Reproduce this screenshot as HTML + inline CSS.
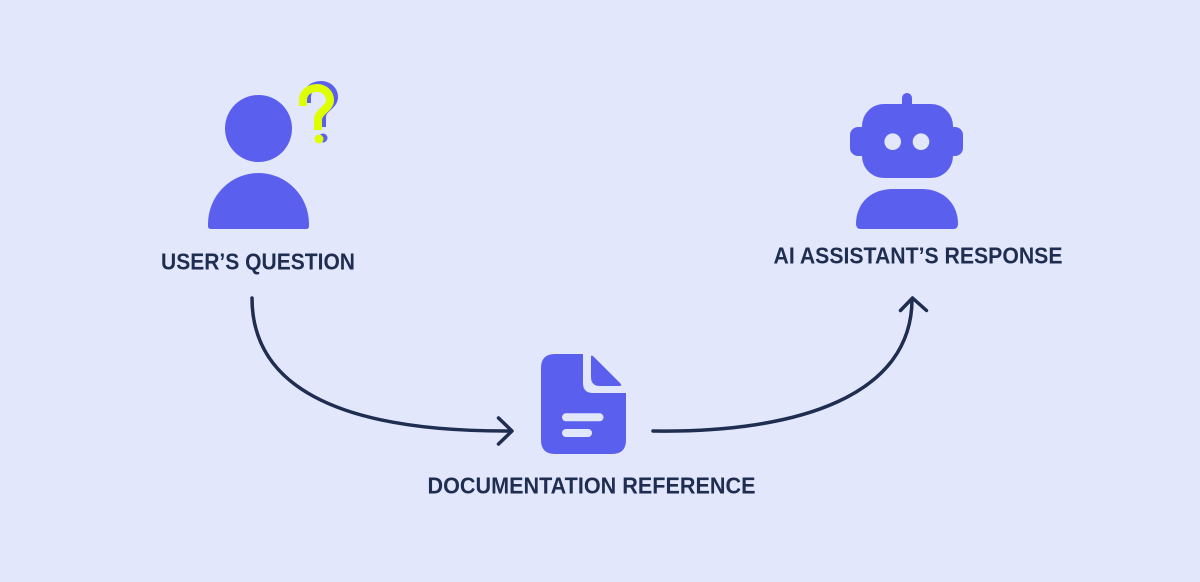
<!DOCTYPE html>
<html>
<head>
<meta charset="utf-8">
<style>
html,body{margin:0;padding:0;background:#E2E7FC;}
svg{display:block;}
text{font-family:"Liberation Sans",Arial,sans-serif;font-weight:bold;fill:#1F2E50;}
</style>
</head>
<body>
<svg width="1200" height="582" viewBox="0 0 1200 582" xmlns="http://www.w3.org/2000/svg">
<rect width="1200" height="582" fill="#E2E7FC"/>

<!-- User icon -->
<circle cx="258.5" cy="128.5" r="33.5" fill="#5B5FEE"/>
<path d="M208,224 A50.5,51 0 0 1 309,224 L309,226 Q309,229 306,229 L211,229 Q208,229 208,226 Z" fill="#5B5FEE"/>

<!-- Question mark -->
<g fill="none" stroke-linecap="butt" stroke-width="8">
  <path d="M307,103 L307,97 C307,89 314,85 321,85 C329,85 334,91 334,97 C334,106 322,108 322,117 L322,127" stroke="#5B5FEE"/>
  <path d="M303,106 L303,100 C303,92 310,88 317,88 C325,88 330,94 330,100 C330,109 318,111 318,120 L318,130" stroke="#DDFF00"/>
</g>
<circle cx="323" cy="138" r="4.5" fill="#5B5FEE"/>
<circle cx="319" cy="139" r="4.5" fill="#DDFF00"/>

<!-- Robot -->
<rect x="902" y="93" width="10" height="18" rx="5" fill="#5B5FEE"/>
<rect x="850" y="127" width="113" height="29" rx="8" fill="#5B5FEE"/>
<rect x="862" y="104" width="91" height="74" rx="22" fill="#5B5FEE"/>
<circle cx="892.7" cy="141.7" r="8.3" fill="#E2E7FC"/>
<circle cx="921" cy="141.7" r="8.3" fill="#E2E7FC"/>
<path d="M856,224 C856,204 870,189 893,189 L921,189 C944,189 958,204 958,224 Q958,229 953,229 L861,229 Q856,229 856,224 Z" fill="#5B5FEE"/>

<!-- Document -->
<path d="M555,354 L583,354 L583,383 Q583,393 593,393 L626,393 L626,440 Q626,454 612,454 L555,454 Q541,454 541,440 L541,368 Q541,354 555,354 Z" fill="#5B5FEE"/>
<path d="M591,357 Q591,354 594,357 L620,383 Q623,386 619,386 L600,386 Q591,386 591,377 Z" fill="#5B5FEE"/>
<line x1="566" y1="417.3" x2="599.5" y2="417.3" stroke="#E2E7FC" stroke-width="8" stroke-linecap="round"/>
<line x1="566" y1="433" x2="588" y2="433" stroke="#E2E7FC" stroke-width="8" stroke-linecap="round"/>

<!-- Arrows -->
<g fill="none" stroke="#1F2E50" stroke-width="3.5" stroke-linecap="round" stroke-linejoin="round">
  <path d="M252,298 C252,382 330,432 511,431"/>
  <path d="M498.5,418 L512,431 L498.5,444"/>
  <path d="M653,431 C800,433 912,395 912,299"/>
  <path d="M900.5,310.5 L912.5,298 L926.5,310.5"/>
</g>

<!-- Labels -->
<text x="161" y="269.5" font-size="23" textLength="194" lengthAdjust="spacingAndGlyphs">USER’S QUESTION</text>
<text x="773.5" y="263.5" font-size="23" textLength="289" lengthAdjust="spacingAndGlyphs">AI ASSISTANT’S RESPONSE</text>
<text x="427.5" y="493.5" font-size="23" textLength="328" lengthAdjust="spacingAndGlyphs">DOCUMENTATION REFERENCE</text>
</svg>
</body>
</html>
